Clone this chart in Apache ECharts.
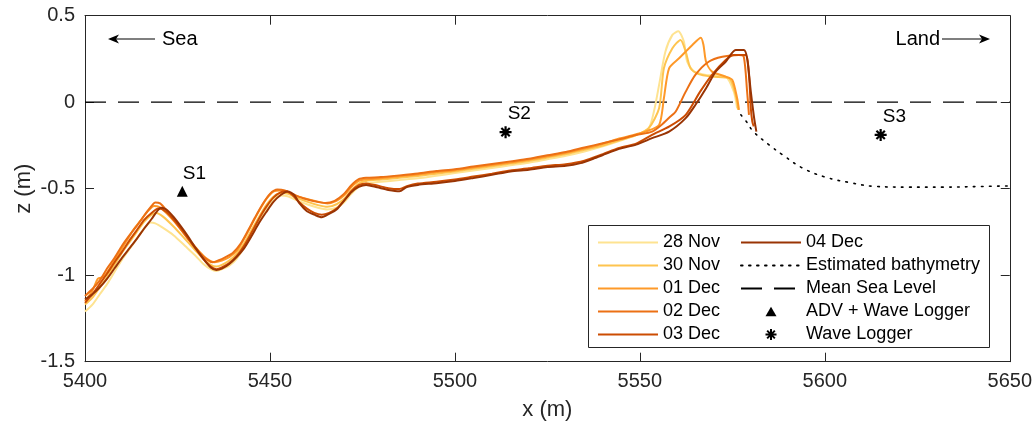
<!DOCTYPE html>
<html>
<head>
<meta charset="utf-8">
<script src="https://cdn.jsdelivr.net/npm/echarts@6/dist/echarts.min.js"></script>
<style>
html,body{margin:0;padding:0;background:#fff;}
#chart{width:1035px;height:427px;}
</style>
</head>
<body>
<div id="chart"></div>
<script>
// ---------- DATA ----------
const xTicks = [5400, 5450, 5500, 5550, 5600, 5650];
const zTicks = [-1.5, -1, -0.5, 0, 0.5];

const seriesNames = ['28 Nov', '30 Nov', '01 Dec', '02 Dec', '03 Dec', '04 Dec'];
const seriesColors = ['#FEE391', '#FEC44F', '#FE9929', '#EC7014', '#CC4C02', '#993404'];

const nov28 = [[5400,-1.21],[5402,-1.17],[5404,-1.11],[5406,-1.05],[5408,-0.98],[5410,-0.91],[5412,-0.85],[5414,-0.79],[5416,-0.73],[5417.7,-0.695],[5419,-0.70],[5421,-0.725],[5424,-0.77],[5427,-0.83],[5430,-0.89],[5432,-0.935],[5434,-0.965],[5435.5,-0.975],[5437,-0.965],[5439,-0.945],[5441,-0.905],[5443,-0.84],[5445,-0.765],[5447,-0.685],[5449,-0.615],[5451,-0.56],[5453,-0.54],[5455,-0.545],[5457,-0.565],[5460,-0.59],[5463,-0.61],[5465.5,-0.62],[5468,-0.61],[5470,-0.58],[5472,-0.53],[5474,-0.49],[5476,-0.47],[5480,-0.46],[5485,-0.45],[5490,-0.44],[5495,-0.425],[5500,-0.41],[5505,-0.395],[5510,-0.38],[5515,-0.365],[5520,-0.35],[5525,-0.33],[5530,-0.31],[5535,-0.285],[5540,-0.255],[5544.4,-0.225],[5549,-0.19],[5552.4,-0.15],[5553.8,-0.054],[5555.2,0.10],[5556.9,0.292],[5558.8,0.389],[5560.4,0.41],[5561.9,0.35],[5562.8,0.234],[5564.7,0.177],[5567.9,0.158],[5573.2,0.148],[5575.4,0.061],[5576.3,-0.035]];

const nov30 = [[5400,-1.17],[5402,-1.13],[5404,-1.07],[5406,-1.01],[5408,-0.94],[5410,-0.87],[5412,-0.81],[5414,-0.75],[5416,-0.69],[5418,-0.65],[5419.3,-0.64],[5421,-0.66],[5424,-0.72],[5427,-0.79],[5430,-0.86],[5432,-0.905],[5434,-0.94],[5435.5,-0.95],[5437,-0.94],[5439,-0.915],[5441,-0.875],[5443,-0.815],[5445,-0.74],[5447,-0.665],[5449,-0.595],[5451,-0.545],[5453,-0.525],[5455,-0.53],[5457,-0.55],[5460,-0.575],[5463,-0.595],[5465.5,-0.605],[5468,-0.59],[5470,-0.56],[5472,-0.51],[5474,-0.47],[5476,-0.455],[5480,-0.447],[5485,-0.437],[5490,-0.427],[5495,-0.413],[5500,-0.40],[5505,-0.385],[5510,-0.37],[5515,-0.355],[5520,-0.34],[5525,-0.32],[5530,-0.30],[5535,-0.275],[5540,-0.25],[5544.4,-0.22],[5549,-0.19],[5552.4,-0.15],[5555.2,-0.035],[5556.5,0.196],[5558.8,0.312],[5561,0.36],[5562.4,0.292],[5563.7,0.196],[5565.9,0.162],[5569.5,0.148],[5574.1,0.139],[5575.9,0.042],[5576.6,-0.044]];

const dec01 = [[5400,-1.15],[5402,-1.09],[5403.5,-1.02],[5405,-1.01],[5407,-0.95],[5409,-0.88],[5411,-0.81],[5413,-0.74],[5415,-0.685],[5417,-0.63],[5418.7,-0.60],[5420,-0.605],[5422,-0.64],[5425,-0.71],[5428,-0.79],[5431,-0.865],[5433,-0.905],[5435,-0.925],[5437,-0.915],[5439,-0.895],[5441,-0.86],[5443,-0.79],[5445,-0.71],[5447,-0.63],[5449,-0.56],[5451,-0.515],[5453,-0.51],[5455,-0.52],[5457,-0.54],[5460,-0.56],[5463,-0.575],[5465.5,-0.585],[5468,-0.57],[5470,-0.54],[5472,-0.49],[5474,-0.455],[5476,-0.445],[5480,-0.44],[5485,-0.428],[5490,-0.418],[5495,-0.404],[5500,-0.393],[5505,-0.378],[5510,-0.363],[5515,-0.348],[5520,-0.333],[5525,-0.313],[5530,-0.293],[5535,-0.268],[5540,-0.24],[5544.4,-0.21],[5549,-0.185],[5551.5,-0.17],[5555.2,-0.131],[5556.5,0.023],[5557.9,0.196],[5560.6,0.254],[5564.2,0.331],[5566.5,0.373],[5567.2,0.331],[5567.9,0.234],[5569.5,0.177],[5573.2,0.148],[5575,0.129],[5576.3,0.023],[5576.8,-0.044]];

const dec02 = [[5400,-1.12],[5402,-1.08],[5404,-1.03],[5406,-0.96],[5408,-0.90],[5410,-0.83],[5412,-0.77],[5414,-0.715],[5416,-0.655],[5418,-0.60],[5419,-0.58],[5420.3,-0.585],[5422,-0.625],[5425,-0.71],[5428,-0.795],[5431,-0.87],[5433,-0.91],[5434.5,-0.925],[5436,-0.915],[5438,-0.895],[5440,-0.87],[5442,-0.82],[5444,-0.745],[5446,-0.665],[5448,-0.59],[5450,-0.53],[5452,-0.505],[5454,-0.51],[5456,-0.53],[5459,-0.555],[5462,-0.572],[5465,-0.583],[5467.5,-0.57],[5470,-0.53],[5472,-0.48],[5474,-0.445],[5476,-0.437],[5480,-0.433],[5485,-0.423],[5490,-0.412],[5495,-0.398],[5500,-0.388],[5505,-0.372],[5510,-0.357],[5515,-0.342],[5520,-0.327],[5525,-0.307],[5530,-0.288],[5535,-0.262],[5540,-0.237],[5544.4,-0.215],[5549,-0.19],[5553.3,-0.17],[5555.9,-0.13],[5557.9,-0.09],[5559.7,-0.054],[5562.4,0.061],[5565,0.158],[5568.6,0.234],[5572.3,0.263],[5576.8,0.273],[5578.1,0.263],[5579,0.061],[5579.5,-0.073]];

const dec03 = [[5400,-1.16],[5402,-1.11],[5404,-1.05],[5406,-0.99],[5408,-0.925],[5410,-0.865],[5412,-0.80],[5414,-0.74],[5416,-0.68],[5418,-0.64],[5419.8,-0.615],[5421,-0.62],[5423,-0.655],[5426,-0.73],[5429,-0.82],[5432,-0.905],[5434,-0.95],[5435.5,-0.965],[5437,-0.955],[5439,-0.93],[5441,-0.89],[5443,-0.83],[5445,-0.755],[5447,-0.675],[5449,-0.605],[5451,-0.55],[5453,-0.52],[5454.5,-0.515],[5456,-0.535],[5458,-0.58],[5460,-0.615],[5462,-0.64],[5464,-0.65],[5466,-0.64],[5468,-0.615],[5470,-0.57],[5472,-0.515],[5474,-0.48],[5476,-0.47],[5479,-0.482],[5482,-0.497],[5485,-0.502],[5487,-0.485],[5490,-0.47],[5495,-0.46],[5500,-0.447],[5505,-0.43],[5510,-0.413],[5515,-0.395],[5520,-0.382],[5525,-0.367],[5530,-0.358],[5535,-0.338],[5540,-0.30],[5544.4,-0.265],[5549,-0.24],[5553.3,-0.189],[5558,-0.14],[5562.4,-0.073],[5566.3,0.061],[5569.5,0.158],[5573.2,0.244],[5575.4,0.273],[5578.6,0.273],[5579.5,0.158],[5580,-0.035],[5580.4,-0.112],[5580.8,-0.14]];

const dec04 = [[5400,-1.14],[5402,-1.11],[5404,-1.07],[5406,-1.02],[5408,-0.96],[5410,-0.90],[5412,-0.845],[5414,-0.79],[5416,-0.73],[5418,-0.675],[5419.5,-0.63],[5420.5,-0.61],[5422,-0.62],[5424,-0.665],[5427,-0.75],[5430,-0.845],[5432,-0.905],[5434,-0.955],[5435.5,-0.97],[5437,-0.962],[5439,-0.935],[5441,-0.895],[5443,-0.845],[5445,-0.775],[5447,-0.70],[5449,-0.635],[5451,-0.575],[5453,-0.535],[5454.8,-0.516],[5456.5,-0.535],[5458,-0.585],[5460,-0.63],[5462,-0.65],[5464,-0.665],[5466,-0.645],[5468,-0.62],[5470,-0.57],[5472,-0.52],[5474,-0.49],[5476,-0.478],[5479,-0.492],[5482,-0.507],[5485,-0.515],[5487,-0.49],[5490,-0.478],[5495,-0.468],[5500,-0.455],[5505,-0.438],[5510,-0.42],[5515,-0.40],[5520,-0.39],[5525,-0.375],[5530,-0.368],[5534,-0.352],[5537,-0.33],[5540,-0.305],[5544.4,-0.27],[5549,-0.245],[5553.3,-0.208],[5557.9,-0.17],[5562.4,-0.092],[5565,-0.016],[5567.9,0.081],[5570.5,0.177],[5573.2,0.234],[5575.9,0.302],[5578.1,0.302],[5579,0.254],[5580,0.061],[5580.9,-0.092],[5581.5,-0.17]];

const bathyX = [5577.3, 5578.8, 5580.7, 5584.9, 5588.6, 5594, 5600.2, 5606.6, 5613.8, 5622.8, 5631.8, 5642.5, 5650];
const bathyZ = [-0.073, -0.112, -0.17, -0.246, -0.304, -0.381, -0.433, -0.464, -0.487, -0.491, -0.491, -0.487, -0.484];

const mslX = [5400, 5650];
const mslZ = [0, 0];

const advNames = ['S1'];
const advX = [5426.3];
const advZ = [-0.515];

const waveNames = ['S2', 'S3'];
const waveX = [5513.7, 5615.1];
const waveZ = [-0.173, -0.189];

// ---------- CHART ----------
const FONT = "'Liberation Sans', Arial, Helvetica, sans-serif";
const AX = '#262626';
const profiles = [nov28, nov30, dec01, dec02, dec03, dec04];
const asterisk = 'path://M0,-6L0,6M-6,0L6,0M-4.2,-4.2L4.2,4.2M-4.2,4.2L4.2,-4.2';
// legend icon: small triangle padded to the 60x11 legend box so it is not stretched
const legendTriangle = 'path://M-30,-5.5L-30,-5.5M30,5.5L30,5.5M0,-4.8L5.5,4.8L-5.5,4.8Z';
const noSymbol = {color: 'rgba(0,0,0,0)', borderColor: 'rgba(0,0,0,0)', borderWidth: 0, opacity: 0};

const chart = echarts.init(document.getElementById('chart'), null, {renderer: 'canvas'});

const series = profiles.map((d, i) => ({
  name: seriesNames[i],
  type: 'line',
  data: d,
  symbol: 'none',
  showSymbol: false,
  smooth: 0.25,
  lineStyle: {color: seriesColors[i], width: 2},
  itemStyle: {color: seriesColors[i]},
  z: 2 + i
}));

series.push({
  name: 'Estimated bathymetry',
  type: 'line',
  data: bathyX.map((x, i) => [x, bathyZ[i]]),
  symbol: 'none',
  smooth: 0.4,
  lineStyle: {color: '#000', width: 1.6, type: [1.6, 6.4], cap: 'round'},
  itemStyle: {color: '#000'},
  z: 1
});
series.push({
  name: 'Mean Sea Level',
  type: 'line',
  data: mslX.map((x, i) => [x, mslZ[i]]),
  symbol: 'none',
  lineStyle: {color: '#000', width: 1.3, type: [21, 12]},
  itemStyle: {color: '#000'},
  z: 1
});
series.push({
  name: 'ADV + Wave Logger',
  type: 'scatter',
  data: advX.map((x, i) => ({name: advNames[i], value: [x, advZ[i]]})),
  symbol: 'triangle',
  symbolSize: 11,
  symbolKeepAspect: true,
  itemStyle: {color: '#000', opacity: 1},
  label: {show: true, formatter: '{b}', position: 'right', offset: [-10, -18],
          color: '#000', fontFamily: FONT, fontSize: 19, textBorderWidth: 0, opacity: 1},
  z: 10
});
series.push({
  name: 'Wave Logger',
  type: 'scatter',
  data: waveX.map((x, i) => ({name: waveNames[i], value: [x, waveZ[i]]})),
  symbol: asterisk,
  symbolSize: 12,
  symbolKeepAspect: true,
  itemStyle: {color: '#000', borderColor: '#000', borderWidth: 2.2, opacity: 1},
  label: {show: true, formatter: '{b}', position: 'right', offset: [-10, -18],
          color: '#000', fontFamily: FONT, fontSize: 19, textBorderWidth: 0, opacity: 1},
  z: 10
});

const legendCommon = {
  orient: 'vertical',
  padding: 0,
  itemWidth: 60,
  itemHeight: 11,
  itemGap: 5,
  z: 20,
  selectedMode: false,
  symbolKeepAspect: true,
  textStyle: {fontFamily: FONT, fontSize: 18, lineHeight: 18, color: '#000'}
};

const lineItem = (name) => ({name: name, itemStyle: noSymbol});

const option = {
  animation: false,
  backgroundColor: '#fff',
  grid: {left: 85, right: 24, top: 15.7, bottom: 65.3, containLabel: false},
  xAxis: [{
    type: 'value', min: xTicks[0], max: xTicks[xTicks.length - 1], interval: 50,
    position: 'bottom',
    name: 'x (m)', nameLocation: 'middle', nameGap: 37, nameMoveOverlap: false,
    nameTextStyle: {fontFamily: FONT, fontSize: 22, color: AX},
    axisLine: {show: true, onZero: false, lineStyle: {color: AX, width: 1}},
    axisTick: {show: true, inside: true, length: 9, lineStyle: {color: AX}},
    axisLabel: {fontFamily: FONT, fontSize: 20, color: AX, margin: 10, formatter: (v) => String(v)},
    splitLine: {show: false}
  }, {
    type: 'value', min: xTicks[0], max: xTicks[xTicks.length - 1], interval: 50,
    position: 'top',
    axisLine: {show: true, onZero: false, lineStyle: {color: AX, width: 1}},
    axisTick: {show: true, inside: true, length: 9, lineStyle: {color: AX}},
    axisLabel: {show: false},
    splitLine: {show: false}
  }],
  yAxis: [{
    type: 'value', min: zTicks[0], max: zTicks[zTicks.length - 1], interval: 0.5,
    position: 'left',
    name: 'z (m)', nameLocation: 'middle', nameGap: 50, nameMoveOverlap: false,
    nameTextStyle: {fontFamily: FONT, fontSize: 22, color: AX},
    axisLine: {show: true, onZero: false, lineStyle: {color: AX, width: 1}},
    axisTick: {show: true, inside: true, length: 9, lineStyle: {color: AX}},
    axisLabel: {fontFamily: FONT, fontSize: 20, color: AX, margin: 10, formatter: (v) => String(v)},
    splitLine: {show: false}
  }, {
    type: 'value', min: zTicks[0], max: zTicks[zTicks.length - 1], interval: 0.5,
    position: 'right',
    axisLine: {show: true, onZero: false, lineStyle: {color: AX, width: 1}},
    axisTick: {show: true, inside: true, length: 9, lineStyle: {color: AX}},
    axisLabel: {show: false},
    splitLine: {show: false}
  }],
  legend: [
    Object.assign({}, legendCommon, {left: 597, top: 233.5,
      data: seriesNames.slice(0, 5).map(lineItem)}),
    Object.assign({}, legendCommon, {left: 740, top: 233.5,
      data: [lineItem(seriesNames[5]), lineItem('Estimated bathymetry'), lineItem('Mean Sea Level'),
             {name: 'ADV + Wave Logger', icon: legendTriangle}, {name: 'Wave Logger'}]})
  ],
  graphic: [
    {type: 'rect', z: 15, shape: {x: 588.5, y: 225.5, width: 401, height: 122},
     style: {fill: '#fff', stroke: AX, lineWidth: 1}},
    // Sea arrow
    {type: 'line', z: 15, shape: {x1: 112, y1: 39, x2: 155, y2: 39}, style: {stroke: '#000', lineWidth: 1.2}},
    {type: 'polygon', z: 15, shape: {points: [[108, 39], [119, 34.5], [116, 39], [119, 43.5]]}, style: {fill: '#000'}},
    {type: 'text', z: 15, style: {x: 162, y: 39, text: 'Sea', fontFamily: FONT, fontSize: 20, fill: '#000', verticalAlign: 'middle', align: 'left'}},
    // Land arrow
    {type: 'text', z: 15, style: {x: 940, y: 39, text: 'Land', fontFamily: FONT, fontSize: 20, fill: '#000', verticalAlign: 'middle', align: 'right'}},
    {type: 'line', z: 15, shape: {x1: 942, y1: 39, x2: 986, y2: 39}, style: {stroke: '#000', lineWidth: 1.2}},
    {type: 'polygon', z: 15, shape: {points: [[990, 39], [979, 34.5], [982, 39], [979, 43.5]]}, style: {fill: '#000'}}
  ],
  series: series
};

chart.setOption(option);
</script>
</body>
</html>
